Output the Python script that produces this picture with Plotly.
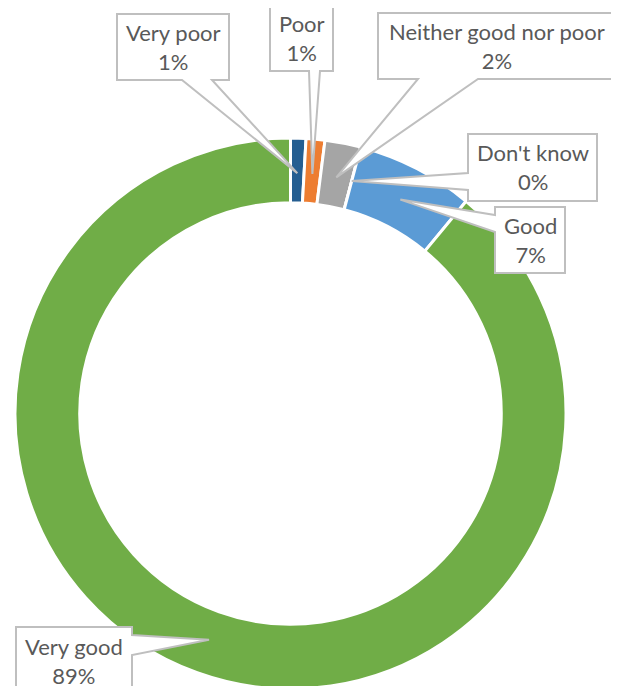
import math
import plotly.graph_objects as go

# ---------------- data ----------------
categories = ["Very poor", "Poor", "Neither good nor poor", "Don't know", "Good", "Very good"]
values = [0.9, 1.1, 2.1, 0.0, 6.9, 89.0]
colors = ["#255E91", "#ED7D31", "#A5A5A5", "#FFC000", "#5B9BD5", "#70AD47"]

# ---------------- layout geometry (screen pixels) ----------------
W, H = 619, 686
OFF = 8  # page body margin: the figure is drawn 8px right/down on screen
cx, cy, R = 290.5 - OFF, 413.5 - OFF, 272.5
R_DOM = R + 3  # plotly draws the pie slightly inside its domain
hole = 0.765
dom_x = [(cx - R_DOM) / W, (cx + R_DOM) / W]
dom_y = [max(0.0, (H - cy - R_DOM) / H), (H - cy + R_DOM) / H]

# callout boxes (screen px): (x0, y0, x1, y1), wedge side, wedge base span
callouts = [
    ((117, 14, 229, 80), "bottom", (182, 212)),
    ((270, 4, 333, 71), "bottom", (309, 320)),
    ((378, 13, 615, 79), "bottom", (418, 478)),
    ((468, 134, 597, 201), "left", (173, 190)),
    ((495, 207, 565, 273), "left", (215, 232)),
    ((16, 627, 132, 705), "right", (635, 655)),
]

FONT = "Lato"
TEXT_COLOR = "#595959"
BOX_LINE = "#BFBFBF"

total = sum(values)
pct = [round(v / total * 100) for v in values]

# slice mid-angles (clockwise from 12 o'clock) -> wedge tips on mid ring
r_mid = R * (1 + hole) / 2
tips = []
cum = 0.0
for v in values:
    mid = (cum + v / 2) / total * 2 * math.pi
    cum += v
    tips.append((cx + OFF + r_mid * math.sin(mid), cy + OFF - r_mid * math.cos(mid)))


def P(x, y):
    return f"{(x - OFF) / W:.5f},{1 - (y - OFF) / H:.5f}"


shapes = []
annotations = []
for (box, side, base), tip, cat, p in zip(callouts, tips, categories, pct):
    x0, y0, x1, y1 = box
    tx, ty = tip
    pts = [(x0, y0), (x1, y0)]
    if side == "right":
        pts += [(x1, base[0]), (tx, ty), (x1, base[1])]
    pts += [(x1, y1)]
    if side == "bottom":
        pts += [(base[1], y1), (tx, ty), (base[0], y1)]
    pts += [(x0, y1)]
    if side == "left":
        pts += [(x0, base[1]), (tx, ty), (x0, base[0])]
    path = "M " + " L ".join(P(x, y) for x, y in pts) + " Z"
    shapes.append(dict(type="path", path=path, xref="paper", yref="paper",
                       fillcolor="white", line=dict(color=BOX_LINE, width=2),
                       layer="above"))
    ymid = (y0 + min(y1, y0 + 67)) / 2
    annotations.append(dict(
        x=((x0 + x1) / 2 - OFF) / W, y=1 - (ymid - OFF) / H,
        xref="paper", yref="paper", showarrow=False,
        text=f"{cat}<br>{p}%", align="center",
        font=dict(family=FONT, size=22, color=TEXT_COLOR),
        xanchor="center", yanchor="middle"))

fig = go.Figure(go.Pie(
    labels=categories, values=values, sort=False, direction="clockwise",
    rotation=0, hole=hole, textinfo="none", hoverinfo="label+percent",
    marker=dict(colors=colors, line=dict(color="white", width=3)),
    domain=dict(x=dom_x, y=dom_y), showlegend=False,
))

fig.update_layout(
    width=W, height=H, margin=dict(l=0, r=0, t=0, b=0),
    paper_bgcolor="white", plot_bgcolor="white",
    shapes=shapes, annotations=annotations, showlegend=False,
)

fig.write_html("out.html")
